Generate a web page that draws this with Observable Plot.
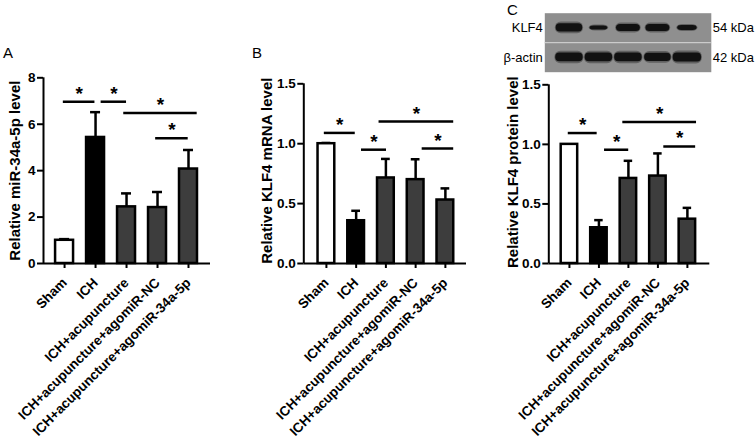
<!DOCTYPE html>
<html><head><meta charset="utf-8">
<script src="https://cdn.jsdelivr.net/npm/d3@7"></script>
<script src="https://cdn.jsdelivr.net/npm/@observablehq/plot@0.6"></script>
<style>
body{margin:0;background:#fff;}
#wrap{position:relative;width:756px;height:443px;overflow:hidden;font-family:Arial,"Liberation Sans",sans-serif;}
.panel{position:absolute;top:0;}
.letter{position:absolute;font-size:15px;line-height:15px;color:#000;}
</style></head><body><div id="wrap"></div>
<script>
// ---- data ----
const groups = ["Sham","ICH","ICH+acupuncture","ICH+acupuncture+agomiR-NC","ICH+acupuncture+agomiR-34a-5p"];
const fills = ["#ffffff","#000000","#3d3d3d","#3d3d3d","#3d3d3d"];

const mirMean = [1.0, 5.43, 2.44, 2.41, 4.07];
const mirSD   = [0.05, 1.09, 0.58, 0.67, 0.82];
const mirTicks = [0, 2, 4, 6, 8];
// [from, to, level] in group-index units
const mirBrackets = [[-0.04, 0.98, 6.97], [1.18, 2.0, 6.97], [1.91, 4.28, 6.48], [2.94, 3.99, 5.40]];

const mrnaMean = [1.0, 0.357, 0.714, 0.70, 0.53];
const mrnaSD   = [0.006, 0.083, 0.159, 0.17, 0.097];
const mrnaTicks = [0, 0.5, 1.0, 1.5];
const mrnaBrackets = [[-0.07, 0.97, 1.09], [1.18, 2.02, 0.95], [1.77, 4.28, 1.185], [3.22, 4.28, 0.96]];

const protMean = [1.0, 0.30, 0.714, 0.734, 0.372];
const protSD   = [0, 0.064, 0.148, 0.19, 0.095];
const protTicks = [0, 0.5, 1.0, 1.5];
const protBrackets = [[-0.04, 0.94, 1.095], [1.19, 2.01, 0.955], [1.81, 4.31, 1.187], [3.2, 4.28, 0.983]];

// western blot band strengths (relative)
const blotRows = ["KLF4", "β-actin"];
const blotSizes = ["54 kDa", "42 kDa"];
const klf4Band  = [1.0, 0.5, 0.85, 0.85, 0.6];
const actinBand = [1.05, 1.05, 1.05, 1.0, 1.1];

const FONT = "Arial, 'Liberation Sans', sans-serif";

function panel({means, sds, brackets, yDomain, yTicks, yFmt, yLabel, marginLeft, marginRight, marginTop, xDomain, labelOffset, labelDy}) {
  const data = groups.map((g, i) => ({i, g, m: means[i], s: sds[i], fill: fills[i]}));
  const err = data.filter(d => d.s > 0);
  const br = brackets.map(([a, b, y]) => ({a, b, y, mid: (a + b) / 2}));
  return Plot.plot({
    width: 252, height: 443,
    marginLeft, marginRight, marginTop, marginBottom: 180,
    x: {type: "linear", domain: xDomain},
    y: {domain: yDomain},
    color: {type: "identity"},
    style: {fontFamily: FONT, fontSize: "13px", fontWeight: "bold", color: "#000", background: "transparent", overflow: "visible"},
    marks: [
      Plot.ruleX(err, {x: "i", y1: "m", y2: d => d.m + d.s, strokeWidth: 2.5}),
      Plot.ruleY(err, {y: d => d.m + d.s, x1: d => d.i - 0.5, x2: d => d.i + 0.5, insetLeft: 10.5, insetRight: 10.5, strokeWidth: 2.5}),
      Plot.rectY(data, {x1: d => d.i - 0.5, x2: d => d.i + 0.5, y1: 0, y2: "m", fill: "fill", stroke: "#000", strokeWidth: 2.5, insetLeft: 6.5, insetRight: 6.5}),
      Plot.ruleY([yDomain[0]], {strokeWidth: 2}),
      Plot.ruleX([xDomain[0]], {y1: yDomain[0], y2: yDomain[1], strokeWidth: 2}),
      Plot.axisY({ticks: yTicks, tickFormat: yFmt, tickSize: 6, tickPadding: 2, strokeWidth: 2, label: null, fontSize: 13.5}),
      Plot.axisX({ticks: [0, 1, 2, 3, 4], tickFormat: i => groups[i], tickRotate: -45, tickSize: 5, tickPadding: 12, strokeWidth: 2, label: null, fontSize: 13.5}),
      Plot.ruleY(br, {y: "y", x1: "a", x2: "b", strokeWidth: 2.5}),
      Plot.text(br, {x: "mid", y: "y", text: () => "*", dy: -8, fontSize: 19}),
      Plot.text([yLabel], {frameAnchor: "left", textAnchor: "middle", rotate: -90, dx: -labelOffset, dy: labelDy, fontSize: 15})
    ]
  });
}

const wrap = document.getElementById("wrap");
function place(el, left, top) {
  el.classList.add("panel");
  el.style.left = left + "px";
  el.style.top = top + "px";
  wrap.appendChild(el);
}

const xA = [-0.68, 4.71], xB = [-0.76, 4.71], xC = [-0.70, 4.76];

place(panel({means: mirMean, sds: mirSD, brackets: mirBrackets, yDomain: [0, 8], yTicks: mirTicks, yFmt: d3.format("d"),
  yLabel: "Relative miR-34a-5p level", marginLeft: 43, marginRight: 42, marginTop: 77.3, xDomain: xA, labelOffset: 28.5, labelDy: 0}), 0, 0);

place(panel({means: mrnaMean, sds: mrnaSD, brackets: mrnaBrackets, yDomain: [0, 1.5], yTicks: mrnaTicks, yFmt: d3.format(".1f"),
  yLabel: "Relative KLF4 mRNA level", marginLeft: 51.3, marginRight: 38, marginTop: 83.3, xDomain: xB, labelOffset: 37, labelDy: -3}), 252, 0);

place(panel({means: protMean, sds: protSD, brackets: protBrackets, yDomain: [0, 1.5], yTicks: protTicks, yFmt: d3.format(".1f"),
  yLabel: "Relative KLF4 protein level", marginLeft: 44.3, marginRight: 46.7, marginTop: 84.3, xDomain: xC, labelOffset: 36, labelDy: -2}), 504, 0);

// western blot
const lanes = [];
groups.forEach((g, i) => {
  lanes.push({i, row: 1.5, v: klf4Band[i]});
  lanes.push({i, row: 0.5, v: actinBand[i]});
});
const blot = Plot.plot({
  width: 252, height: 80,
  marginLeft: 44.3, marginRight: 46.7, marginTop: 12.7, marginBottom: 8.3,
  x: {type: "linear", domain: xC, axis: null},
  y: {domain: [0, 2], axis: null},
  style: {fontFamily: FONT, fontSize: "13px", color: "#000", background: "transparent", overflow: "visible"},
  marks: [
    Plot.frame({fill: "#8f8f8f", insetLeft: -4, insetRight: -1.5}),
    Plot.ruleY([1], {stroke: "#d9d9d9", strokeWidth: 1, insetLeft: -4, insetRight: -1.5}),
    Plot.rect(lanes, {x1: d => d.i - 0.5 * (0.36 + 0.6 * d.v), x2: d => d.i + 0.5 * (0.36 + 0.6 * d.v),
      y1: d => d.row - 0.2 * d.v, y2: d => d.row + 0.2 * d.v, fill: "#2a2a2a", fillOpacity: 0.45, rx: 6}),
    Plot.rect(lanes, {x1: d => d.i - 0.5 * (0.3 + 0.6 * d.v), x2: d => d.i + 0.5 * (0.3 + 0.6 * d.v),
      y1: d => d.row - 0.14 * d.v, y2: d => d.row + 0.14 * d.v, fill: "#111", rx: 4}),
    Plot.text(blotRows, {frameAnchor: "left", y: (d, i) => 1.5 - i, text: d => d, textAnchor: "end", dx: -6}),
    Plot.text(blotSizes, {frameAnchor: "right", y: (d, i) => 1.5 - i, text: d => d, textAnchor: "start", dx: 3})
  ]
});
place(blot, 504, 0);

// panel letters
[["A", 3, 45], ["B", 252, 45], ["C", 507, 2]].forEach(([t, l, tp]) => {
  const d = document.createElement("div");
  d.className = "letter";
  d.textContent = t;
  d.style.left = l + "px";
  d.style.top = tp + "px";
  wrap.appendChild(d);
});
</script></body></html>
